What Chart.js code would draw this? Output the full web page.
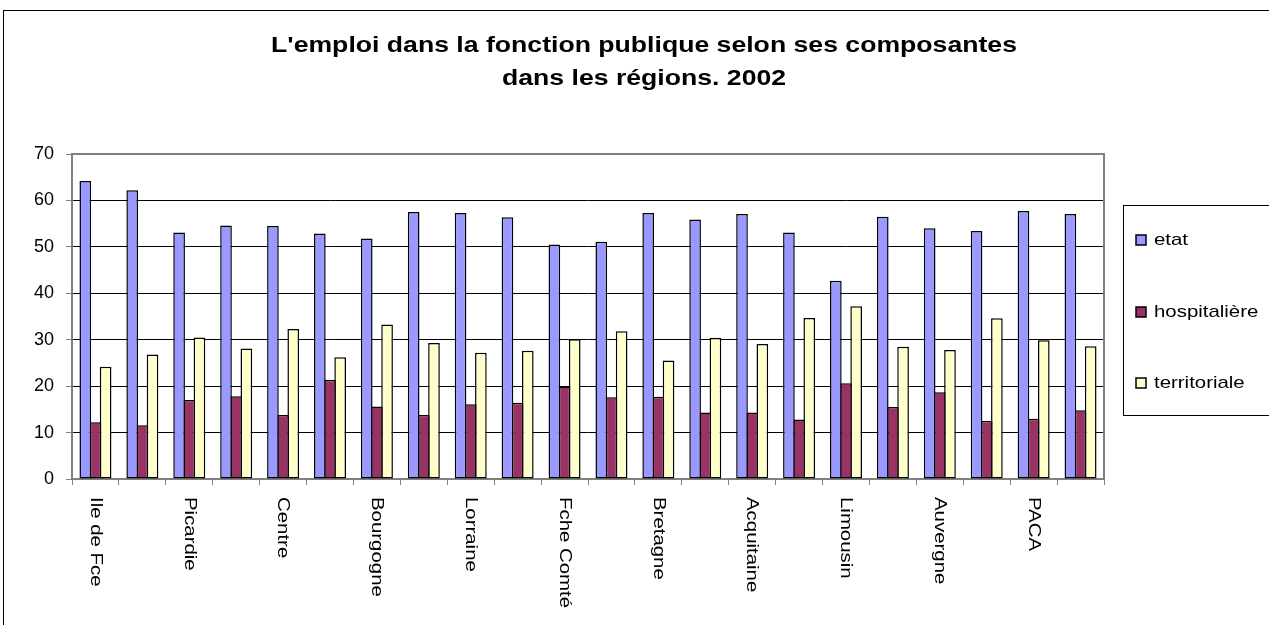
<!DOCTYPE html>
<html>
<head>
<meta charset="utf-8">
<script src="https://cdn.jsdelivr.net/npm/chart.js@4.4.1/dist/chart.umd.min.js"></script>
<style>
html,body{margin:0;padding:0;background:#fff;overflow:hidden;}
#wrap{width:1269px;height:625px;position:relative;}
</style>
</head>
<body>
<div id="wrap"><canvas id="c" width="1269" height="625"></canvas></div>
<script>
// ---- data ----
const categories = [
  "Ile de Fce", "Champagne", "Picardie", "Hte Normandie", "Centre", "Basse Normandie",
  "Bourgogne", "Nord", "Lorraine", "Alsace", "Fche Comté", "Pays de Loire",
  "Bretagne", "Poitou", "Acquitaine", "Midi Pyrénées", "Limousin", "Rhône Alpes",
  "Auvergne", "Languedoc", "PACA", "Corse"
];
// labels actually printed on the axis (every other category)
const tickLabels = [
  "Ile de Fce", "", "Picardie", "", "Centre", "",
  "Bourgogne", "", "Lorraine", "", "Fche Comté", "",
  "Bretagne", "", "Acquitaine", "", "Limousin", "",
  "Auvergne", "", "PACA", ""
];
const seriesNames = ["etat", "hospitalière", "territoriale"];
const etat = [64.2, 62.2, 53.1, 54.6, 54.5, 52.9, 51.8, 57.5, 57.3, 56.4, 50.5,
              51.1, 57.3, 55.9, 57.1, 53.1, 42.7, 56.5, 54.0, 53.4, 57.7, 57.1];
const hospitaliere = [12.2, 11.6, 17.0, 17.8, 13.8, 21.4, 15.6, 13.8, 16.1, 16.4, 19.9,
                      17.6, 17.7, 14.3, 14.3, 12.8, 20.6, 15.5, 18.7, 12.5, 13.0, 14.8];
const territoriale = [24.2, 26.8, 30.5, 28.1, 32.3, 26.2, 33.3, 29.3, 27.2, 27.6, 30.1,
                      31.8, 25.5, 30.4, 29.1, 34.7, 37.2, 28.5, 27.8, 34.6, 29.9, 28.6];
const yTicks = [0, 10, 20, 30, 40, 50, 60, 70];
const titleLines = ["L'emploi dans la fonction publique selon ses composantes", "dans les régions. 2002"];

// ---- style ----
const FONT = '"Liberation Sans", Arial, Helvetica, sans-serif';
const colors = ["#9999FF", "#993366", "#FFFFCC"];
const STRETCH = 1.2;

const decorPlugin = {
  id: 'decor',
  beforeDraw(chart) {
    const ctx = chart.ctx;
    ctx.save();
    ctx.fillStyle = '#fff';
    ctx.fillRect(0, 0, chart.width, chart.height);
    ctx.strokeStyle = '#000';
    ctx.lineWidth = 1;
    ctx.strokeRect(3.5, 10.5, 1400, 800);
    ctx.restore();
  },
  afterDatasetsDraw(chart) {
    const ctx = chart.ctx, a = chart.chartArea;
    ctx.save();
    ctx.strokeStyle = '#808080';
    ctx.lineWidth = 2;
    ctx.beginPath();
    ctx.moveTo(a.left, a.top);
    ctx.lineTo(a.right, a.top);
    ctx.lineTo(a.right, a.bottom);
    ctx.stroke();
    ctx.restore();
  },
  afterDraw(chart) {
    const ctx = chart.ctx;
    // title (two centred lines)
    ctx.save();
    ctx.fillStyle = '#000';
    ctx.textBaseline = 'middle';
    ctx.textAlign = 'center';
    ctx.font = 'bold 22px ' + FONT;
    const ty = [46, 79];
    titleLines.forEach((t, i) => {
      ctx.save();
      ctx.translate(644, ty[i]);
      ctx.scale(1.21, 1);
      ctx.fillText(t, 0, 0);
      ctx.restore();
    });
    ctx.restore();

    // x labels, rotated clockwise
    const xs = chart.scales.x;
    ctx.save();
    ctx.fillStyle = '#000';
    ctx.font = '17px ' + FONT;
    ctx.textBaseline = 'middle';
    ctx.textAlign = 'left';
    tickLabels.forEach((t, i) => {
      if (!t) return;
      const x = xs.getPixelForValue(i);
      ctx.save();
      ctx.translate(x, 497);
      ctx.rotate(Math.PI / 2);
      ctx.scale(STRETCH, 1);
      ctx.fillText(t, 0, 0);
      ctx.restore();
    });
    ctx.restore();

    // legend
    ctx.save();
    ctx.strokeStyle = '#000';
    ctx.lineWidth = 1;
    ctx.strokeRect(1123.5, 205.5, 300, 210);
    const ys = [240, 312, 383];
    chart.data.datasets.forEach((ds, i) => {
      ctx.fillStyle = ds.backgroundColor;
      ctx.fillRect(1136, ys[i] - 5, 10, 10);
      ctx.lineWidth = 1.5;
      ctx.strokeStyle = '#000';
      ctx.strokeRect(1136, ys[i] - 5, 10, 10);
      ctx.fillStyle = '#000';
      ctx.font = '17px ' + FONT;
      ctx.textBaseline = 'middle';
      ctx.textAlign = 'left';
      ctx.save();
      ctx.translate(1154, ys[i]);
      ctx.scale(STRETCH, 1);
      ctx.fillText(ds.label, 0, 0);
      ctx.restore();
    });
    ctx.restore();
  }
};

const mk = (i, data) => ({
  label: seriesNames[i],
  data: data,
  backgroundColor: colors[i],
  borderColor: '#000',
  borderWidth: 1.5,
  borderSkipped: false
});

new Chart(document.getElementById('c').getContext('2d'), {
  type: 'bar',
  data: {
    labels: categories,
    datasets: [mk(0, etat), mk(1, hospitaliere), mk(2, territoriale)]
  },
  options: {
    responsive: false,
    animation: false,
    devicePixelRatio: 1,
    layout: {padding: {left: 0, top: 154, right: 165, bottom: 140}},
    datasets: {bar: {categoryPercentage: 0.65, barPercentage: 1.147}},
    plugins: {
      legend: {display: false},
      title: {display: false},
      tooltip: {enabled: false}
    },
    scales: {
      x: {
        grid: {display: true, drawOnChartArea: false, offset: true, tickLength: 6, tickColor: '#808080', lineWidth: 1},
        border: {display: true, color: '#808080', width: 2},
        ticks: {display: false}
      },
      y: {
        min: 0, max: 70,
        afterBuildTicks(s) { s.ticks = yTicks.map(v => ({value: v})); },
        afterFit(s) { s.width = 72; },
        ticks: {color: '#000', font: {family: FONT, size: 18}, padding: 12},
        grid: {color: '#000', lineWidth: 1, tickLength: 6, tickColor: '#808080'},
        border: {display: true, color: '#808080', width: 2}
      }
    }
  },
  plugins: [decorPlugin]
});
</script>
</body>
</html>
